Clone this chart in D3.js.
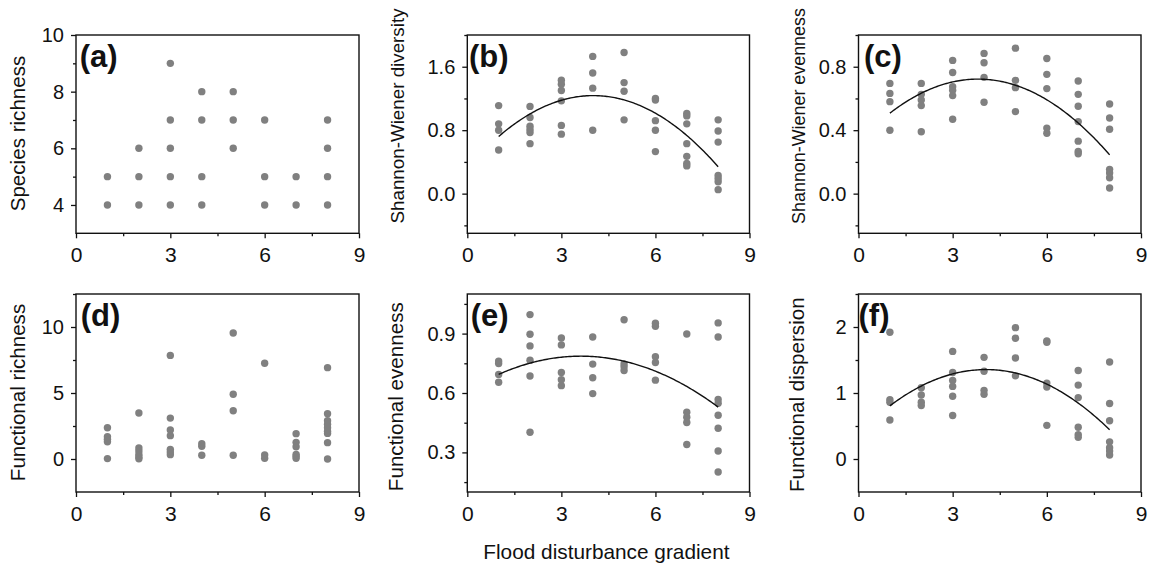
<!DOCTYPE html>
<html><head><meta charset="utf-8">
<script src="https://cdn.jsdelivr.net/npm/d3@7"></script>
<style>
body{margin:0;background:#fff}
svg{display:block}
text{font-family:"Liberation Sans",Arial,Helvetica,sans-serif;fill:#111}
</style>
</head><body>
<svg id="chart" width="1149" height="564"></svg>
<script>
// ---------------- data ----------------
const gradient = [1, 2, 3, 4, 5, 6, 7, 8];
const xTicks = [0, 3, 6, 9];
const xMinorTicks = [1.5, 4.5, 7.5];
const xTitle = "Flood disturbance gradient";

const speciesRichness = [
  [5, 4], [6, 5, 4], [9, 7, 6, 5, 4], [8, 7, 5, 4],
  [8, 7, 6], [7, 5, 4], [5, 4], [7, 6, 5, 4]
];
const shannonDiversity = [
  [1.11, 0.88, 0.80, 0.55],
  [1.10, 0.96, 0.85, 0.81, 0.77, 0.63],
  [1.43, 1.38, 1.30, 1.17, 0.86, 0.75],
  [1.73, 1.52, 1.33, 0.80],
  [1.78, 1.40, 1.29, 0.93],
  [1.20, 1.18, 0.92, 0.80, 0.53],
  [1.01, 0.98, 0.88, 0.63, 0.47, 0.38, 0.35],
  [0.93, 0.79, 0.65, 0.23, 0.19, 0.15, 0.05]
];
const shannonEvenness = [
  [0.695, 0.632, 0.58, 0.40],
  [0.695, 0.626, 0.59, 0.555, 0.39],
  [0.84, 0.764, 0.674, 0.651, 0.618, 0.469],
  [0.884, 0.825, 0.733, 0.576],
  [0.917, 0.714, 0.668, 0.517],
  [0.852, 0.752, 0.662, 0.413, 0.381],
  [0.71, 0.626, 0.551, 0.454, 0.331, 0.266, 0.251],
  [0.565, 0.477, 0.406, 0.153, 0.13, 0.10, 0.036]
];
const functionalRichness = [
  [2.37, 1.69, 1.5, 1.31, 0.03],
  [3.48, 0.83, 0.6, 0.35, 0.15, 0.02],
  [7.85, 3.1, 2.2, 1.77, 0.73, 0.53, 0.33],
  [1.16, 0.96, 0.28],
  [9.55, 4.9, 3.66, 0.28],
  [7.25, 0.30, 0.05],
  [1.92, 1.26, 0.93, 0.35, 0.2, 0.05],
  [6.92, 3.43, 2.9, 2.63, 2.37, 2.1, 1.94, 1.24, 0.0]
];
const functionalEvenness = [
  [0.761, 0.749, 0.694, 0.654],
  [0.996, 0.897, 0.838, 0.766, 0.686, 0.402],
  [0.878, 0.843, 0.704, 0.667, 0.637],
  [0.883, 0.746, 0.677, 0.597],
  [0.970, 0.747, 0.732, 0.714],
  [0.952, 0.937, 0.783, 0.754, 0.665],
  [0.898, 0.503, 0.478, 0.451, 0.340],
  [0.954, 0.883, 0.567, 0.548, 0.488, 0.422, 0.307, 0.201]
];
const functionalDispersion = [
  [1.92, 0.90, 0.86, 0.59],
  [1.08, 0.97, 0.86, 0.81],
  [1.63, 1.31, 1.19, 1.10, 0.95, 0.66],
  [1.54, 1.33, 1.04, 0.98],
  [1.99, 1.83, 1.53, 1.26],
  [1.79, 1.77, 1.15, 1.09, 0.51],
  [1.34, 1.12, 0.93, 0.48, 0.37, 0.33],
  [1.47, 0.84, 0.58, 0.26, 0.17, 0.12, 0.06]
];

// quadratic fits, vertex form y = a (x - h)^2 + k  -> [a, h, k]
const diversityFit = [-0.0566, 4.02, 1.236];
const evennessFit = [-0.0272, 3.81, 0.722];
const funcEvennessFit = [-0.0134, 3.62, 0.786];
const funcDispersionFit = [-0.0587, 4.06, 1.355];
const fitRange = [1, 8];

const panelLabels = ["(a)", "(b)", "(c)", "(d)", "(e)", "(f)"];
const yTitles = ["Species richness", "Shannon-Wiener diversity", "Shannon-Wiener evenness",
                 "Functional richness", "Functional evenness", "Functional dispersion"];
const yDomains = [[3, 10], [-0.5, 2.0], [-0.25, 1.0], [-2.5, 12.5], [0.1, 1.1], [-0.5, 2.5]];
const yTickValues = [[4, 6, 8, 10], [0.0, 0.8, 1.6], [0.0, 0.4, 0.8], [0, 5, 10], [0.3, 0.6, 0.9], [0, 1, 2]];
const yMinorTicks = [[5, 7, 9], [-0.4, 0.4, 1.2, 2.0], [-0.2, 0.2, 0.6, 1.0], [2.5, 7.5, 12.5], [0.15, 0.45, 0.75, 1.05], [0.5, 1.5, 2.5]];
const yTickFormats = ["d", ".1f", ".1f", "d", ".1f", "d"];
const seriesValues = [speciesRichness, shannonDiversity, shannonEvenness, functionalRichness, functionalEvenness, functionalDispersion];
const fits = [null, diversityFit, evennessFit, null, funcEvennessFit, funcDispersionFit];

// ---------------- layout ----------------
const cols = [[76, 359], [467.3, 749.5], [858.5, 1141]];
const rows = [[35, 233.3], [294, 492]];
const titlePos = [[20, 133.5], [399, 116], [800, 116], [20, 392.5], [398, 396.7], [799, 394.7]];
const titleSize = [20.6, 18.8, 17.9, 20.6, 20.6, 20.6];
const labelDx = [3.7, 1.6, 5.5, 4.7, 3.4, 0];

const svg = d3.select("#chart");
const POINT = "#808080";

seriesValues.forEach((vals, i) => {
  const c = cols[i % 3], r = rows[Math.floor(i / 3)];
  const x = d3.scaleLinear().domain([0, 9]).range(c);
  const y = d3.scaleLinear().domain(yDomains[i]).range([r[1], r[0]]);
  const g = svg.append("g");

  // minor ticks
  const xm = d3.axisBottom(x).tickValues(xMinorTicks).tickSize(3).tickFormat("").tickSizeOuter(0);
  g.append("g").attr("transform", `translate(0,${r[1]})`).call(xm)
    .call(s => s.select(".domain").remove())
    .call(s => s.selectAll("line").attr("stroke", "#111").attr("stroke-width", 1.3));
  const ym = d3.axisLeft(y).tickValues(yMinorTicks[i]).tickSize(3).tickFormat("").tickSizeOuter(0);
  g.append("g").attr("transform", `translate(${c[0]},0)`).call(ym)
    .call(s => s.select(".domain").remove())
    .call(s => s.selectAll("line").attr("stroke", "#111").attr("stroke-width", 1.3));

  // major axes
  const xa = d3.axisBottom(x).tickValues(xTicks).tickSize(5).tickPadding(9).tickSizeOuter(0).tickFormat(d3.format("d"));
  g.append("g").attr("transform", `translate(0,${r[1]})`).call(xa)
    .call(s => s.select(".domain").remove())
    .call(s => s.selectAll("line").attr("stroke", "#111").attr("stroke-width", 1.3))
    .call(s => s.selectAll("text").attr("font-size", 21).attr("fill", "#111"));
  const ya = d3.axisLeft(y).tickValues(yTickValues[i]).tickSize(5).tickPadding(7).tickSizeOuter(0).tickFormat(d3.format(yTickFormats[i]));
  g.append("g").attr("transform", `translate(${c[0]},0)`).call(ya)
    .call(s => s.select(".domain").remove())
    .call(s => s.selectAll("line").attr("stroke", "#111").attr("stroke-width", 1.3))
    .call(s => s.selectAll("text").attr("font-size", 20).attr("fill", "#111"));

  // points
  const pts = [];
  vals.forEach((grp, j) => grp.forEach(v => pts.push([gradient[j], v])));
  g.append("g").selectAll("circle").data(pts).join("circle")
    .attr("cx", d => x(d[0])).attr("cy", d => y(d[1])).attr("r", 3.7)
    .attr("fill", POINT);

  // fitted curve
  if (fits[i]) {
    const [a, h, k] = fits[i];
    const xs = d3.range(fitRange[0], fitRange[1] + 0.001, 0.05);
    const line = d3.line().x(d => x(d)).y(d => y(a * (d - h) * (d - h) + k));
    g.append("path").datum(xs).attr("d", line)
      .attr("fill", "none").attr("stroke", "#111").attr("stroke-width", 1.4);
  }

  // frame
  g.append("rect").attr("x", c[0]).attr("y", r[0]).attr("width", c[1] - c[0]).attr("height", r[1] - r[0])
    .attr("fill", "none").attr("stroke", "#111").attr("stroke-width", 1.4);

  // panel label
  g.append("text").attr("x", c[0] + labelDx[i]).attr("y", r[0] + 31.5)
    .attr("font-size", 31).attr("font-weight", "bold").text(panelLabels[i]);

  // y title
  g.append("text")
    .attr("transform", `translate(${titlePos[i][0]},${titlePos[i][1]}) rotate(-90)`)
    .attr("text-anchor", "middle").attr("dy", "0.26em").attr("font-size", titleSize[i])
    .text(yTitles[i]);
});

svg.append("text").attr("x", 606.4).attr("y", 559).attr("text-anchor", "middle")
  .attr("font-size", 20.8).text(xTitle);
</script>
</body></html>
